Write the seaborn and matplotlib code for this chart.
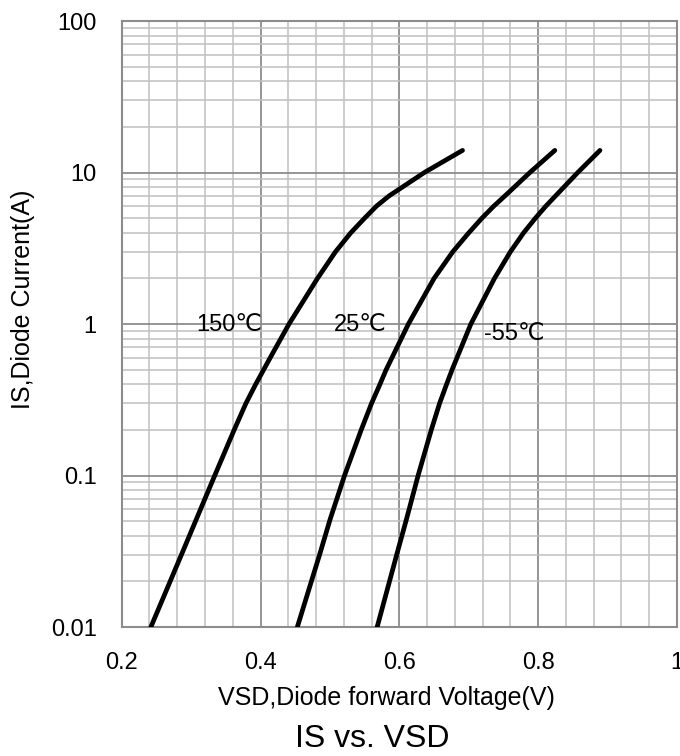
import numpy as np
import pandas as pd
import matplotlib
matplotlib.use("Agg")
import matplotlib.pyplot as plt
import seaborn as sns
from matplotlib.ticker import FixedLocator, MultipleLocator, NullFormatter

# ── Data ─────────────────────────────────────────────────────────────────────
V_150 = [0.242, 0.286, 0.334, 0.362, 0.379, 0.393, 0.414, 0.441, 0.482,
         0.508, 0.530, 0.550, 0.567, 0.585, 0.636, 0.691]
I_150 = [0.01, 0.03, 0.1, 0.2, 0.3, 0.4, 0.6, 1.0, 2, 3, 4, 5, 6, 7, 10, 14]

V_25 = [0.453, 0.486, 0.500, 0.521, 0.545, 0.560, 0.572, 0.581, 0.613,
        0.650, 0.677, 0.700, 0.719, 0.736, 0.752, 0.788, 0.824]
I_25 = [0.01, 0.031, 0.051, 0.1, 0.2, 0.3, 0.4, 0.5, 1.0, 2, 3, 4, 5, 6, 7, 10, 14]

V_M55 = [0.568, 0.597, 0.610, 0.627, 0.646, 0.658, 0.668, 0.676, 0.703,
         0.737, 0.760, 0.779, 0.796, 0.811, 0.857, 0.889]
I_M55 = [0.01, 0.031, 0.051, 0.1, 0.2, 0.3, 0.4, 0.5, 1.0, 2, 3, 4, 5, 6, 10, 14]

CURVE_NAMES = ["150℃", "25℃", "-55℃"]
LABEL_POS = {"150℃": (0.355, 0.98), "25℃": (0.543, 0.98), "-55℃": (0.765, 0.86)}

X_TICKS = [0.2, 0.4, 0.6, 0.8, 1.0]
X_TICKLABELS = ["0.2", "0.4", "0.6", "0.8", "1"]
Y_TICKS = [0.01, 0.1, 1, 10, 100]
Y_TICKLABELS = ["0.01", "0.1", "1", "10", "100"]

df = pd.concat([
    pd.DataFrame({"VSD": V_150, "IS": I_150, "T": "150℃"}),
    pd.DataFrame({"VSD": V_25, "IS": I_25, "T": "25℃"}),
    pd.DataFrame({"VSD": V_M55, "IS": I_M55, "T": "-55℃"}),
], ignore_index=True)

# ── Style ────────────────────────────────────────────────────────────────────
sns.set_style("white")
plt.rcParams["font.family"] = ["Liberation Sans", "DejaVu Sans"]
plt.rcParams["text.color"] = "black"
plt.rcParams["axes.labelcolor"] = "black"

GRID_MAJOR = "#8c8c8c"
GRID_MINOR = "#c0c0c0"

fig = plt.figure(figsize=(6.8, 7.56), dpi=100)
ax = fig.add_axes([0.179, 0.1706, 0.8166, 0.8016])

sns.lineplot(data=df, x="VSD", y="IS", hue="T", hue_order=CURVE_NAMES,
             palette=["black"] * 3, sort=False, estimator=None, legend=False,
             linewidth=3.4, solid_capstyle="round", solid_joinstyle="round",
             ax=ax, zorder=3)

ax.set_yscale("log")
ax.set_xlim(0.2, 1.0)
ax.set_ylim(0.01, 100)

ax.xaxis.set_major_locator(FixedLocator(X_TICKS))
ax.xaxis.set_minor_locator(MultipleLocator(0.04))
ax.set_xticklabels(X_TICKLABELS)
ax.yaxis.set_major_locator(FixedLocator(Y_TICKS))
ax.yaxis.set_minor_locator(FixedLocator(
    [m * 10.0 ** e for e in range(-2, 2) for m in range(2, 10)]))
ax.yaxis.set_minor_formatter(NullFormatter())
ax.set_yticklabels(Y_TICKLABELS)

ax.grid(which="major", color=GRID_MAJOR, linewidth=1.3)
ax.grid(which="minor", color=GRID_MINOR, linewidth=1.1)
ax.set_axisbelow(True)
for s in ax.spines.values():
    s.set_color(GRID_MAJOR)
    s.set_linewidth(1.5)

ax.tick_params(which="major", direction="out", length=6, width=1.3,
               color=GRID_MAJOR, labelcolor="black", labelsize=17, pad=12)
ax.tick_params(which="minor", length=0)

ax.set_xlabel("VSD,Diode forward Voltage(V)", fontsize=18, va="center")
ax.xaxis.set_label_coords(0.477, -0.1167)
ax.set_ylabel("IS,Diode Current(A)", fontsize=18, va="center")
ax.yaxis.set_label_coords(-0.178, 0.54)

for name in CURVE_NAMES:
    x, y = LABEL_POS[name]
    ax.text(x, y, name, fontsize=17, ha="center", va="center", zorder=4)

fig.text(0.548, 0.0229, "IS vs. VSD", fontsize=23, ha="center", va="center")

fig.savefig("out.png", dpi=100)
